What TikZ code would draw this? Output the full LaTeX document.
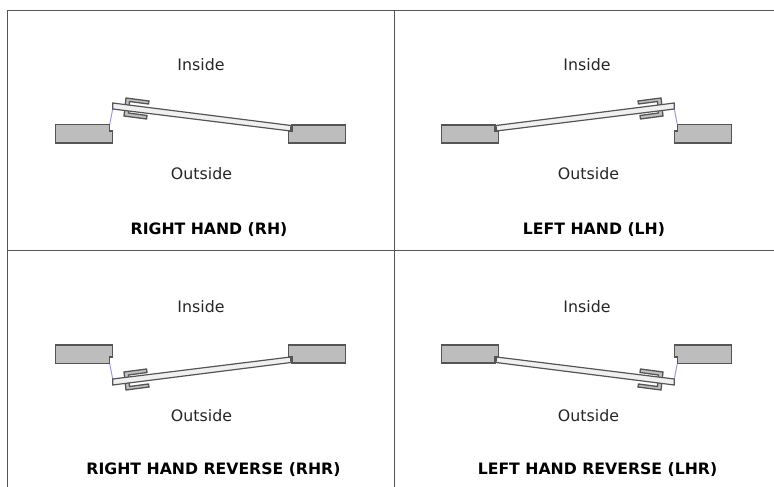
\documentclass[tikz,border=0pt]{standalone}
\usepackage{fontspec}
\setmainfont{DejaVu Sans}
\definecolor{wallgray}{HTML}{BDBDBD}
\definecolor{linegray}{HTML}{555555}
\definecolor{swingblue}{HTML}{9A9AD8}
\begin{document}
\begin{tikzpicture} [x=1pt, y=-1pt,
                every node/.style={inner sep=0pt, text=black!85, font=\fontsize{15.8pt}{17pt}\selectfont},
                title_style/.style={font=\fontsize{15.7pt}{17pt}\selectfont\bfseries, text=black},
                frame_style/.style={draw=linegray, line width=1pt},
                wall_style/.style={draw=linegray, line width=1.3pt, fill=wallgray, line join=miter},
                leaf_style/.style={draw=linegray, line width=1.2pt, fill=black!6},
                handle_style/.style={draw=linegray, line width=1.3pt, fill=black!25}]
                \tikzset{door/.pic={
                    \draw [wall_style] (55.5,124.5) -- (109.5,124.5) -- (109.5,131) -- (112.5,131) -- (112.5,143) -- (55.5,143) -- cycle;
                    \draw [wall_style] (292,125) -- (345.5,125) -- (345.5,143) -- (288.5,143) -- (288.5,131) -- (292,131) -- cycle;
                    \draw [draw=swingblue, line width=1pt] (112.7,109) -- (109.8,124);
                    \draw [handle_style] (126,98) -- (149,101) -- (148.5,104) -- (129.5,101.5) -- (128.5,113) -- (147,115.5) -- (146.5,119) -- (124,116) -- cycle;
                    \draw [leaf_style] (112.7,103) -- (291,125.5) -- (290.5,131) -- (112.7,109) -- cycle;
                }}
                \useasboundingbox (0,0) rectangle (774,487);
                \draw [frame_style] (7,487) -- (7,10.5) -- (774,10.5);
                \draw [frame_style] (394,10.5) -- (394,487);
                \draw [frame_style] (7,250) -- (774,250);
                \pic at (0,0) {door};
                \pic [xscale=-1] at (787,0) {door};
                \pic [yscale=-1] at (0,488) {door};
                \pic [xscale=-1, yscale=-1] at (787,488) {door};
                \node (rh_in) at (201,65) {Inside};
                \node (rh_out) at (201.5,174) {Outside};
                \node [title_style] (rh_name) at (209,229.5) {RIGHT HAND (RH)};
                \node (lh_in) at (587,65) {Inside};
                \node (lh_out) at (588.5,174) {Outside};
                \node [title_style] (lh_name) at (594,229.5) {LEFT HAND (LH)};
                \node (rhr_in) at (201,307) {Inside};
                \node (rhr_out) at (201.5,416) {Outside};
                \node [title_style] (rhr_name) at (213.5,469.5) {RIGHT HAND REVERSE (RHR)};
                \node (lhr_in) at (587,307) {Inside};
                \node (lhr_out) at (588.5,416) {Outside};
                \node [title_style] (lhr_name) at (597.5,469.5) {LEFT HAND REVERSE (LHR)};
            \end{tikzpicture}
\end{document}
